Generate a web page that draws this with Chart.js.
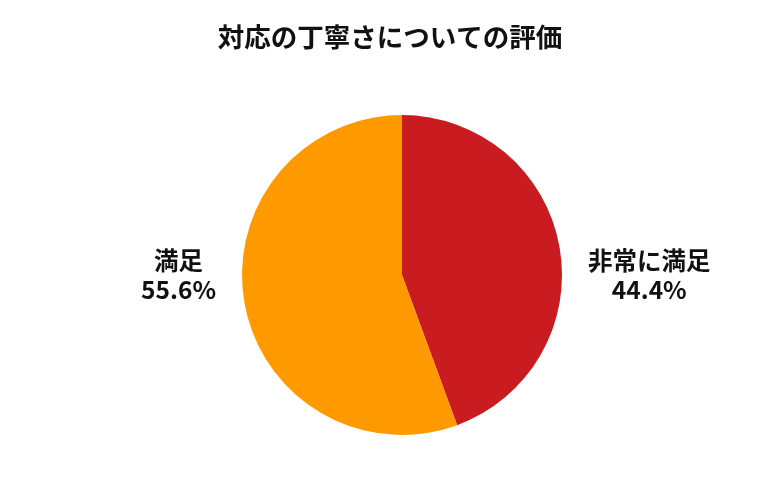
<!DOCTYPE html>
<html>
<head>
<meta charset="utf-8">
<script src="https://cdn.jsdelivr.net/npm/chart.js@4/dist/chart.umd.min.js"></script>
<style>
html,body{margin:0;padding:0;background:#fff;}
#wrap{width:780px;height:500px;position:relative;}
</style>
</head>
<body>
<div id="wrap"><canvas id="c" width="780" height="500"></canvas></div>
<script>
const titleText = '対応の丁寧さについての評価';
const categories = ['非常に満足', '満足'];
const values = [44.4, 55.6];
const colors = ['#C91B20', '#FF9900'];

const FONT = '"Noto Sans CJK JP", "Noto Sans", sans-serif';

const labelPlugin = {
  id: 'outerLabels',
  afterDraw(chart) {
    const ctx = chart.ctx;
    // title
    ctx.save();
    ctx.fillStyle = '#111';
    ctx.font = 'bold 26.5px ' + FONT;
    ctx.textAlign = 'center';
    ctx.textBaseline = 'middle';
    ctx.fillText(titleText, 390, 37);
    ctx.restore();

    const meta = chart.getDatasetMeta(0);
    meta.data.forEach((arc, i) => {
      const p = arc.getProps(['x','y','startAngle','endAngle','outerRadius'], true);
      const mid = (p.startAngle + p.endAngle) / 2;
      const lines = [categories[i], values[i].toFixed(1) + '%'];
      ctx.save();
      ctx.font = 'bold 24.5px ' + FONT;
      ctx.fillStyle = '#111';
      ctx.textAlign = 'center';
      ctx.textBaseline = 'middle';
      const w = Math.max(...lines.map(l => ctx.measureText(l).width));
      const right = Math.cos(mid) >= 0;
      const gap = 26;
      const cx = right ? p.x + p.outerRadius + gap + w / 2 : p.x - p.outerRadius - gap - w / 2;
      const lh = 29;
      const y0 = p.y - lh / 2;
      lines.forEach((l, k) => ctx.fillText(l, cx, y0 + k * lh));
      ctx.restore();
    });
  }
};

new Chart(document.getElementById('c'), {
  type: 'pie',
  data: {
    labels: categories,
    datasets: [{
      data: values,
      backgroundColor: colors,
      borderWidth: 0
    }]
  },
  options: {
    responsive: false,
    animation: false,
    layout: { padding: { top: 115, bottom: 65, left: 24, right: 0 } },
    plugins: {
      legend: { display: false },
      title: { display: false },
      tooltip: { enabled: false }
    }
  },
  plugins: [labelPlugin]
});
</script>
</body>
</html>
